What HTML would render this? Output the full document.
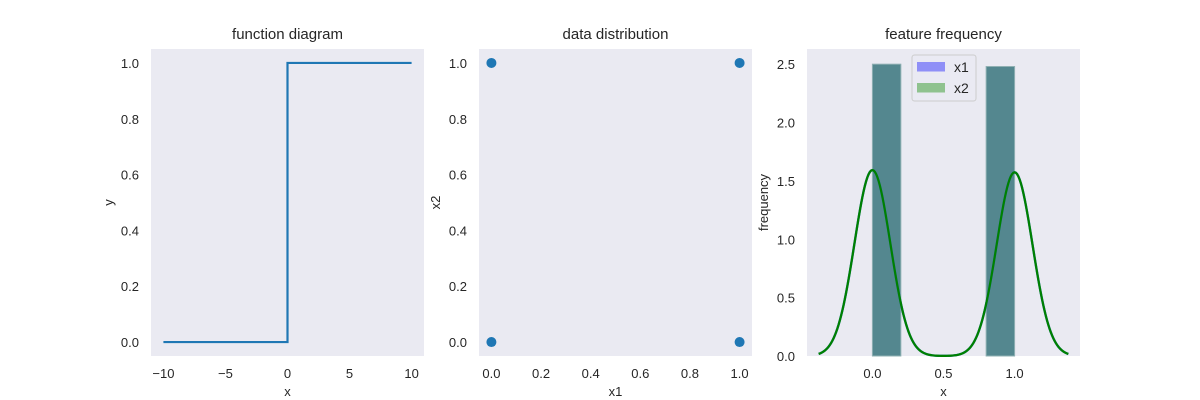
<!DOCTYPE html>
<html><head><meta charset="utf-8"><style>
body{margin:0;background:#fff;}
svg{display:block;font-family:"Liberation Sans",Arial,sans-serif;}
</style></head><body>
<svg id="fig" width="1200" height="400"></svg>
<script>
// Panel 1: step function
const stepX = [-10, 0, 0, 10];
const stepY = [0, 0, 1, 1];
const p1XTicks = [-10, -5, 0, 5, 10];
const p1XTickLabels = ["\u221210", "\u22125", "0", "5", "10"];
const p1YTicks = [0, 0.2, 0.4, 0.6, 0.8, 1.0];
const p1YTickLabels = ["0.0", "0.2", "0.4", "0.6", "0.8", "1.0"];
// Panel 2: scatter
const scatterX1 = [0, 0, 1, 1];
const scatterX2 = [0, 1, 0, 1];
const p2Ticks = [0, 0.2, 0.4, 0.6, 0.8, 1.0];
const p2TickLabels = ["0.0", "0.2", "0.4", "0.6", "0.8", "1.0"];
// Panel 3: histogram + kde
const binStarts = [0, 0.8];
const binEnds = [0.2, 1.0];
const binHeights = [2.5, 2.48];
const kdeSamples = [0, 1];
const kdeWeights = [0.503, 0.497];
const kdeBandwidth = 0.126;
const p3XTicks = [0, 0.5, 1.0];
const p3XTickLabels = ["0.0", "0.5", "1.0"];
const p3YTicks = [0, 0.5, 1.0, 1.5, 2.0, 2.5];
const p3YTickLabels = ["0.0", "0.5", "1.0", "1.5", "2.0", "2.5"];

const NS = "http://www.w3.org/2000/svg";
const fig = document.getElementById('fig');
function mk(tag, attrs, parent, text){
  const e = document.createElementNS(NS, tag);
  for (const k in attrs) e.setAttribute(k, attrs[k]);
  if (text !== undefined) e.textContent = text;
  (parent || fig).appendChild(e);
  return e;
}
function scale(d0, d1, r0, r1){ return v => r0 + (v - d0) / (d1 - d0) * (r1 - r0); }
const TOP = 49, BOT = 356;
const FS = 13;

function axes(name, left, right, xd, yd, title, xlabel, ylabel, xt, xtl, yt, ytl, ylabelX){
  const g = mk('g', {});
  
  
  const bg = mk('rect', {x:left, y:TOP, width:right-left, height:BOT-TOP, fill:'#eaeaf2'}, g);
  
  
  const sx = scale(xd[0], xd[1], left, right), sy = scale(yd[0], yd[1], BOT, TOP);
  const t = mk('text', {x:(left+right)/2, y:TOP-10, 'text-anchor':'middle', 'font-size':15, fill:'#262626'}, g, title);
  
  
  xt.forEach((v,i) => {
    const l = mk('text', {x:sx(v), y:BOT+22, 'text-anchor':'middle', 'font-size':FS, fill:'#262626'}, g, xtl[i]);
    
    
  });
  yt.forEach((v,i) => {
    const l = mk('text', {x:left-12, y:sy(v)+5, 'text-anchor':'end', 'font-size':FS, fill:'#262626'}, g, ytl[i]);
    
    
  });
  const xl = mk('text', {x:(left+right)/2, y:BOT+40, 'text-anchor':'middle', 'font-size':FS, fill:'#262626'}, g, xlabel);
  
  
  const cy = (TOP+BOT)/2;
  const yl = mk('text', {x:ylabelX, y:cy, 'text-anchor':'middle', 'font-size':FS, fill:'#262626', transform:`rotate(-90 ${ylabelX} ${cy})`}, g, ylabel);
  
  
  return {g, sx, sy};
}

// Panel 1
const a1 = axes('function-diagram-panel', 151, 424, [-11, 11], [-0.05, 1.05], 'function diagram', 'x', 'y', p1XTicks, p1XTickLabels, p1YTicks, p1YTickLabels, 113);
const stepPath = mk('path', {d: stepX.map((v,i)=>(i?'L':'M')+a1.sx(v)+','+a1.sy(stepY[i])).join(''), fill:'none', stroke:'#1f77b4', 'stroke-width':2.2}, a1.g);



// Panel 2
const a2 = axes('data-distribution-panel', 479, 752, [-0.05, 1.05], [-0.05, 1.05], 'data distribution', 'x1', 'x2', p2Ticks, p2TickLabels, p2Ticks, p2TickLabels, 440);
scatterX1.forEach((v,i) => {
  const c = mk('circle', {cx:a2.sx(v), cy:a2.sy(scatterX2[i]), r:5, fill:'#1f77b4'}, a2.g);
  
  
});

// Panel 3
const a3 = axes('feature-frequency-panel', 807, 1080, [-0.46, 1.46], [0, 2.63], 'feature frequency', 'x', 'frequency', p3XTicks, p3XTickLabels, p3YTicks, p3YTickLabels, 768);
binStarts.forEach((s,i) => {
  const r = mk('rect', {x:a3.sx(s), y:a3.sy(binHeights[i]), width:a3.sx(binEnds[i])-a3.sx(s), height:a3.sy(0)-a3.sy(binHeights[i]), fill:'#54878f', stroke:'#8fb0b3', 'stroke-width':1}, a3.g);
  
  
});
function kde(x){
  let s = 0;
  kdeSamples.forEach((m,i)=>{ s += kdeWeights[i] * Math.exp(-((x-m)**2)/(2*kdeBandwidth**2)) / (kdeBandwidth*Math.sqrt(2*Math.PI)); });
  return s;
}
let d = '';
const x0 = kdeSamples[0] - 3*kdeBandwidth, x1 = kdeSamples[kdeSamples.length-1] + 3*kdeBandwidth;
for (let k = 0; k <= 200; k++){
  const x = x0 + (x1-x0)*k/200;
  d += (k?'L':'M') + a3.sx(x).toFixed(2) + ',' + a3.sy(kde(x)).toFixed(2);
}
const kde1 = mk('path', {d, fill:'none', stroke:'#1f77b4', 'stroke-width':2.4}, a3.g);


const kde2 = mk('path', {d, fill:'none', stroke:'#008000', 'stroke-width':2.2}, a3.g);



// Legend
const lg = mk('g', {}, a3.g);


mk('rect', {x:912, y:55, width:64, height:46, rx:2.5, fill:'#eaeaf2', 'fill-opacity':0.8, stroke:'#cccccc'}, lg);
const e1 = mk('rect', {x:917, y:62, width:28, height:9.5, fill:'#8f8ff7'}, lg);


const t1 = mk('text', {x:954, y:72, 'font-size':14, fill:'#262626'}, lg, 'x1');


const e2 = mk('rect', {x:917, y:83, width:28, height:9.5, fill:'#8fc28f'}, lg);


const t2 = mk('text', {x:954, y:93, 'font-size':14, fill:'#262626'}, lg, 'x2');


</script>
</body></html>
